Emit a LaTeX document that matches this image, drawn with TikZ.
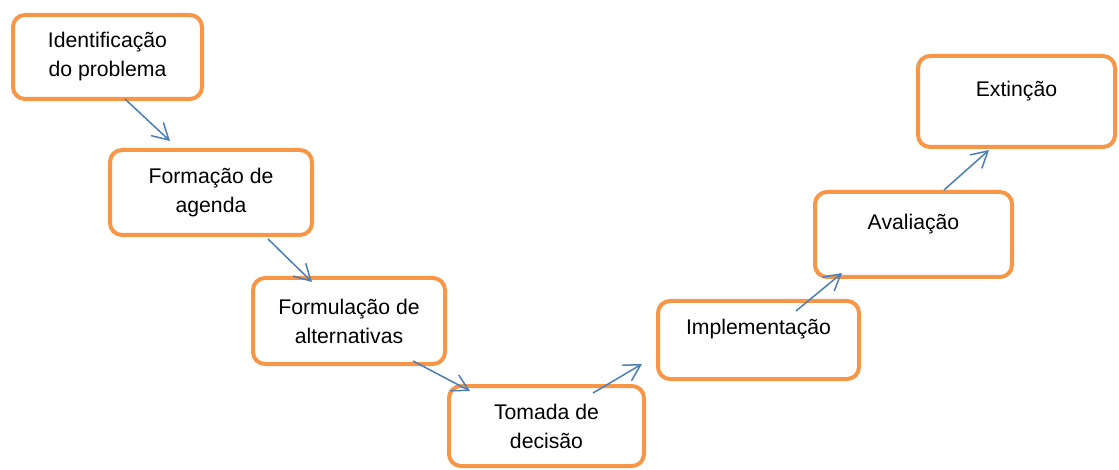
\documentclass[tikz,border=0pt]{standalone}
\usepackage{fontspec}
\setmainfont{Liberation Sans}
\usetikzlibrary{positioning,arrows.meta}

\definecolor{laranja}{HTML}{F79646}
\definecolor{azul}{HTML}{4A7EBB}

\begin{document}
\begin{tikzpicture}[x=0.5pt,y=-0.5pt,
    etapa/.style={rectangle,draw=laranja,line width=2pt,rounded corners=6pt,fill=white,
        align=center,inner sep=0pt,font=\fontsize{10.6}{14.5}\selectfont},
    linhaunica/.style={text height=8pt,text depth=13pt},
    seta/.style={-{Straight Barb[length=8pt,width=9pt]},draw=azul,line width=0.75pt}]
    \useasboundingbox (0,0) rectangle (1119,470);

    % Descending steps
    \node[etapa,minimum width=94.5pt,minimum height=42pt] (ident) at (107.5,57) {Identificação\\do problema};
    \node[etapa,minimum width=101pt,minimum height=42.5pt] (agenda) at (211,192.5) {Formação de\\agenda};
    \node[etapa,minimum width=96pt,minimum height=43pt] (formul) at (349,321) {Formulação de\\alternativas};
    \node[etapa,minimum width=97.5pt,minimum height=40pt] (decisao) at (546.5,426) {Tomada de\\decisão};

    % Ascending steps
    \node[etapa,linhaunica,minimum width=100.5pt,minimum height=39pt] (implem) at (758.5,340) {Implementação};
    \node[etapa,linhaunica,minimum width=98.5pt,minimum height=42.5pt] (aval) at (913.5,234.5) {Avaliação};
    \node[etapa,linhaunica,minimum width=98.5pt,minimum height=45.5pt] (extin) at (1016.5,101.5) {Extinção};

    % Arrows
    \draw[seta] ([xshift=8.75pt,yshift=1pt]ident.south) -- ([xshift=-20.5pt,yshift=3.5pt]agenda.north);
    \draw[seta] ([xshift=28.5pt,yshift=-1pt]agenda.south) -- ([xshift=-18.5pt,yshift=-3pt]formul.north);
    \draw[seta] ([xshift=32pt,yshift=2.5pt]formul.south) -- ([xshift=-38.25pt,yshift=-3.5pt]decisao.north);
    \draw[seta] ([xshift=23.25pt,yshift=-4.5pt]decisao.north) -- ([xshift=-7pt,yshift=8.5pt]implem.south west);
    \draw[seta] ([xshift=18.75pt,yshift=-6pt]implem.north) -- ([xshift=-35.75pt,yshift=3pt]aval.south);
    \draw[seta] ([xshift=15.25pt]aval.north) -- ([xshift=-13.75pt,yshift=-0.5pt]extin.south);
\end{tikzpicture}
\end{document}
